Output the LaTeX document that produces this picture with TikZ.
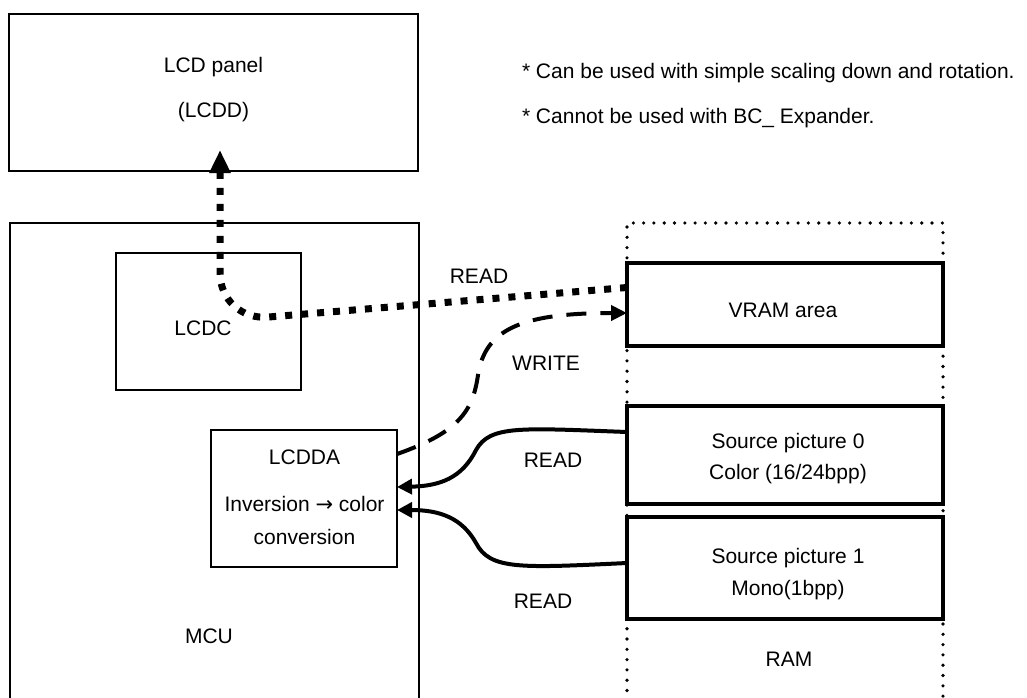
\documentclass[tikz,border=0pt]{standalone}
\usepackage{fontspec}
\setmainfont{Liberation Sans}
\newfontfamily\arrowfont{DejaVu Sans}
\usetikzlibrary{arrows.meta,calc}
\begin{document}
\begin{tikzpicture}[x=1pt,y=-1pt,
  thinbox/.style={draw=black, line width=1.5pt, inner sep=0pt, outer sep=0pt},
  panelbox/.style={draw=black, line width=2pt, inner sep=0pt, outer sep=0pt},
  thickbox/.style={draw=black, line width=4pt, inner sep=0pt, outer sep=0pt},
  rambox/.style={draw=black, line width=3.6pt, dash pattern=on 0pt off 10.3pt, line cap=round, inner sep=0pt, outer sep=0pt},
  lbl/.style={inner sep=0pt, outer sep=0pt, anchor=base, font=\fontsize{21}{25}\selectfont},
  rdot/.style={line width=7pt, dash pattern=on 7pt off 9pt, -{Triangle[length=23pt,width=20pt]}, rounded corners=48pt},
  wdash/.style={line width=4pt, dash pattern=on 20pt off 14pt, -{Triangle[length=16pt,width=15pt]}},
  rsolid/.style={line width=4pt, -{Triangle[length=15pt,width=15pt]}}
]
\useasboundingbox (0,0) rectangle (1027,697);
\clip (0,0) rectangle (1027,697);

% boxes
\node[panelbox, minimum width=409pt, minimum height=157pt] (lcd) at (213.5,92.5) {};
\node[thinbox, minimum width=409pt, minimum height=497pt] (mcu) at (214.5,471.5) {};
\node[thinbox, minimum width=185pt, minimum height=137pt] (lcdc) at (208.5,321.5) {};
\node[thinbox, minimum width=186pt, minimum height=137pt] (lcdda) at (304,498.5) {};
\node[rambox, minimum width=316pt, minimum height=497pt] (ram) at (785,471.5) {};
\node[thickbox, minimum width=316pt, minimum height=83pt] (vram) at (785,304.5) {};
\node[thickbox, minimum width=316pt, minimum height=98pt] (src0) at (785,455) {};
\node[thickbox, minimum width=316pt, minimum height=102pt] (src1) at (785,568) {};

% texts
\node[lbl] (tlcd1) at (213.5,72) {LCD panel};
\node[lbl] (tlcd2) at (213.5,117) {(LCDD)};
\node[lbl, anchor=base west] (note1) at (522,78) {* Can be used with simple scaling down and rotation.};
\node[lbl, anchor=base west] (note2) at (522,123) {* Cannot be used with BC\_ Expander.};
\node[lbl] (tlcdc) at (203,335) {LCDC};
\node[lbl] (tmcu) at (209,643) {MCU};
\node[lbl] (tvram) at (783,317) {VRAM area};
\node[lbl] (ts0a) at (788,448) {Source picture 0};
\node[lbl] (ts0b) at (788,479) {Color (16/24bpp)};
\node[lbl] (ts1a) at (788,563) {Source picture 1};
\node[lbl] (ts1b) at (788,595) {Mono(1bpp)};
\node[lbl] (tram) at (789,666) {RAM};
\node[lbl] (tda1) at (304.5,464) {LCDDA};
\node[lbl] (tda2) at (304.5,511) {Inversion {\arrowfont →} color};
\node[lbl] (tda3) at (304.5,544) {conversion};
\node[lbl] (tread1) at (479,283) {READ};
\node[lbl] (twrite) at (546,370) {WRITE};
\node[lbl] (tread2) at (553,467) {READ};
\node[lbl] (tread3) at (543,608) {READ};

% connectors
\draw[rdot] ([yshift=17pt]vram.west) -- (220,321) -- ([xshift=6.5pt,yshift=21pt]lcd.south);
\draw[wdash] ([yshift=44.5pt]lcdda.east) .. controls (460,432) and (473,410) .. (478,375)
  .. controls (485,330) and (520,313) .. ([yshift=-8.5pt]vram.west);
\draw[rsolid] ([yshift=23pt]src0.west) .. controls (520,428) and (490,425) .. (476,450)
  .. controls (462,478) and (440,486) .. ([yshift=11.5pt]lcdda.east);
\draw[rsolid] ([yshift=5pt]src1.west) .. controls (520,568) and (490,570) .. (476,543)
  .. controls (462,518) and (440,510) .. ([yshift=-11.5pt]lcdda.east);
\end{tikzpicture}
\end{document}
